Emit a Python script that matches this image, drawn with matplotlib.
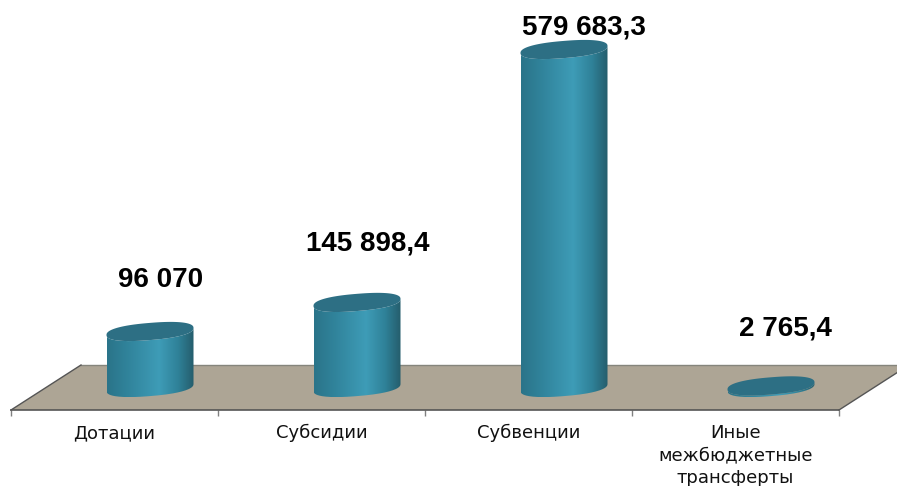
import numpy as np
import matplotlib
matplotlib.use("Agg")
import matplotlib.pyplot as plt
from matplotlib.colors import LinearSegmentedColormap
from matplotlib.patches import PathPatch, Polygon
from matplotlib.path import Path
from matplotlib.transforms import Affine2D

categories = ["Дотации", "Субсидии", "Субвенции", "Иные\nмежбюджетные\nтрансферты"]
values = [96070, 145898.4, 579683.3, 2765.4]
value_labels = ["96 070", "145 898,4", "579 683,3", "2 765,4"]

W, H = 897, 486
PX_PER_UNIT = 338 / 579683.3
CAT_W = 207.0
LEFT, BOTTOM, BASE = 11, 410, 387.5

fig = plt.figure(figsize=(W / 100, H / 100), dpi=100)
ax = fig.add_axes([LEFT / W, (H - BOTTOM) / H, 4 * CAT_W / W, BOTTOM / H])
ax.set_xlim(0, 4)
ylim = (-(BOTTOM - BASE) / PX_PER_UNIT, BASE / PX_PER_UNIT)
ax.set_ylim(*ylim)
ax.patch.set_alpha(0)

for s in ("top", "left", "right"):
    ax.spines[s].set_visible(False)
ax.spines["bottom"].set_color("#555555")
ax.spines["bottom"].set_linewidth(1.2)
ax.spines["bottom"].set_zorder(2)
ax.set_yticks([])
ax.set_xticks(range(5))
ax.set_xticklabels([])
ax.tick_params(axis="x", which="major", length=4, width=1, color="#808080")
ax.set_xticks(np.arange(4) + 0.5, minor=True)
ax.set_xticklabels(categories, minor=True, family="DejaVu Sans", fontsize=13,
                   linespacing=1.33, color="#111111")
ax.tick_params(axis="x", which="minor", length=0, pad=10)

# floor of the chart, in figure pixels (y measured from the top)
px = Affine2D().scale(1, -1).translate(0, H)
floor = [(11, 410), (81, 365), (909, 365), (839, 410)]
ax.add_patch(Polygon(floor, closed=True, transform=px, facecolor="#ada595",
                     edgecolor="none", clip_on=False, zorder=1))
ax.plot([81, 909], [365, 365], transform=px, color="#85857c", lw=1.0, clip_on=False, zorder=1.5)
ax.plot([11, 81], [410, 365], transform=px, color="#555555", lw=1.0, clip_on=False, zorder=1.5)
ax.plot([839, 909], [410, 365], transform=px, color="#555555", lw=1.0, clip_on=False, zorder=1.5)

cmap = LinearSegmentedColormap.from_list(
    "cyl", [(0, "#2a7489"), (0.25, "#31849c"), (0.6, "#3e9cb7"), (0.82, "#2f8198"), (1, "#255d6c")])
TOP_COLOR = "#2d6f84"

A, B, SHEAR = 43.5, 8.6, 3.5          # tilted ellipse, pixels
ROUND = 0.85                          # blunter ends than a true ellipse
DEPTH_SHIFT = 35.5 / CAT_W            # bars sit mid-depth of the floor
LABEL_DX = [10.5, 10.5, 20, 14]
LABEL_DY = [51, 59, 22, 57]

dxu = lambda p: p / CAT_W
dyu = lambda p: p / PX_PER_UNIT
t = np.linspace(0, 2 * np.pi, 181)


def ellipse(cx, cy, tt):
    c = np.sign(np.cos(tt)) * np.abs(np.cos(tt)) ** ROUND
    s = np.sign(np.sin(tt)) * np.abs(np.sin(tt)) ** ROUND
    return cx + dxu(A) * c, cy + dyu(SHEAR) * c + dyu(B) * s


for i, v in enumerate(values):
    cx = i + 0.5 + DEPTH_SHIFT
    # body: lower half of base ellipse, then back along lower half of top ellipse
    lo = np.linspace(np.pi, 2 * np.pi, 91)
    bx, by = ellipse(cx, 0, lo)
    up = np.linspace(2 * np.pi, np.pi, 91)
    tx, ty = ellipse(cx, v, up)
    verts = np.r_[np.c_[bx, by], np.c_[tx, ty], [[bx[0], by[0]]]]
    body = PathPatch(Path(verts), transform=ax.transData, facecolor="none", edgecolor="none")
    ax.add_patch(body)
    img = ax.imshow(np.linspace(0, 1, 256)[None, :], cmap=cmap, aspect="auto", zorder=3,
                    extent=[cx - dxu(A), cx + dxu(A), verts[:, 1].min(), verts[:, 1].max()],
                    interpolation="bilinear", clip_on=True)
    img.set_clip_path(body)
    ex, ey = ellipse(cx, v, t)
    ax.fill(ex, ey, color=TOP_COLOR, lw=0, zorder=4, clip_on=False)
    ax.text(cx + dxu(LABEL_DX[i]), v + dyu(LABEL_DY[i]), value_labels[i], ha="center", va="center",
            family="Liberation Sans", fontweight="bold", fontsize=20, color="#000000",
            zorder=5, clip_on=False)

ax.set_xlim(0, 4)
ax.set_ylim(*ylim)
fig.savefig("out.png", dpi=100)
